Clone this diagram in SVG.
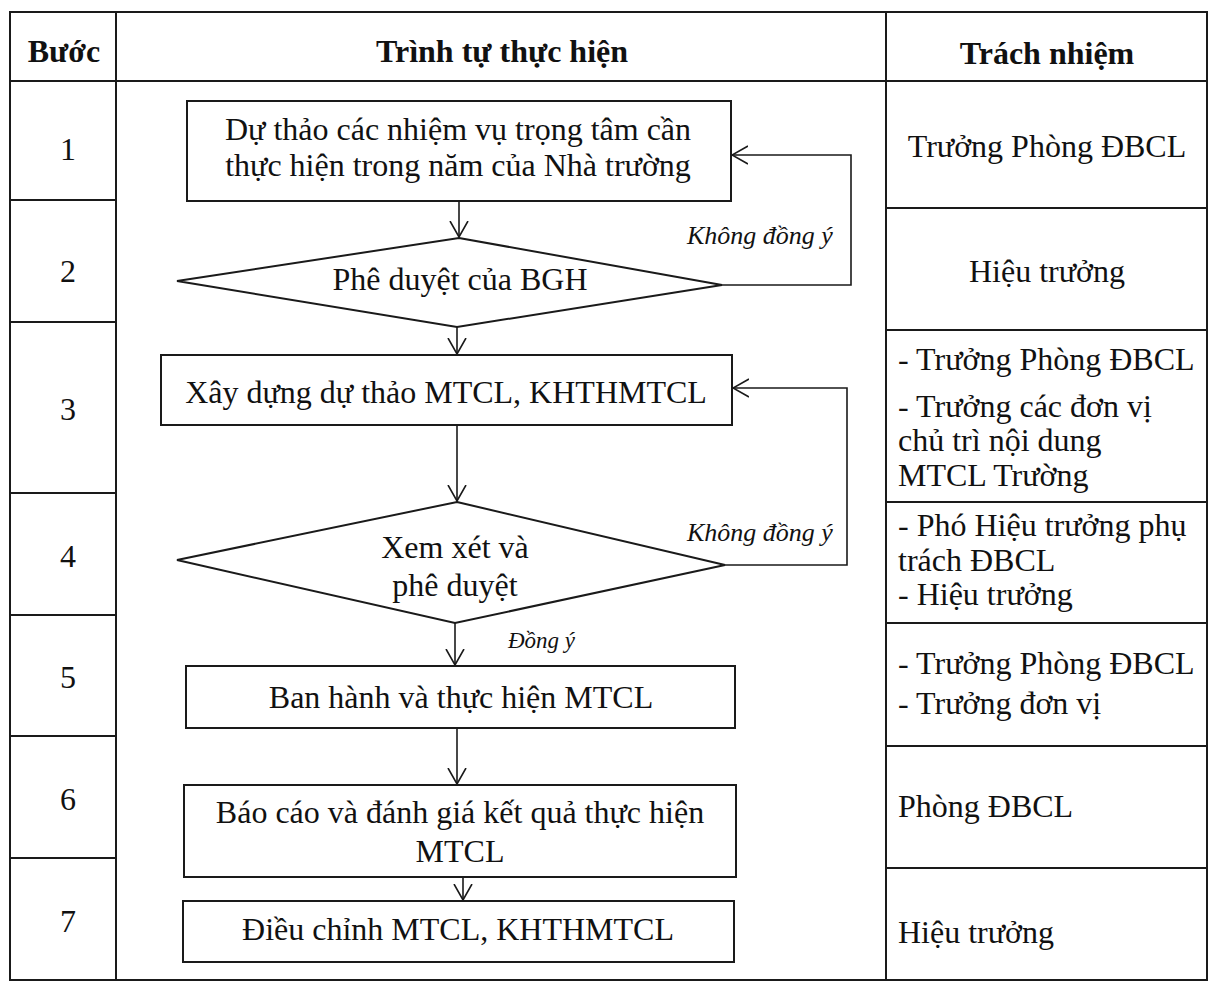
<svg xmlns="http://www.w3.org/2000/svg" width="1209" height="987" viewBox="0 0 1209 987">
<style>
.t{font-family:"Liberation Serif","Times New Roman",serif;font-size:32px;fill:#111}
.b{font-weight:bold}
.c{text-anchor:middle}
.i{font-style:italic;font-size:26px}
.i2{font-style:italic;font-size:23px}
.grid{stroke:#1a1a1a;stroke-width:2;fill:none}
.shape{stroke:#1a1a1a;stroke-width:2;fill:none}
.con{stroke:#1a1a1a;stroke-width:1.6;fill:none}
</style>
<defs>
<marker id="arr" viewBox="0 0 17 20" refX="17" refY="10" markerWidth="17" markerHeight="20" markerUnits="userSpaceOnUse" orient="auto">
<path d="M0,1 L16,10 L0,19" fill="none" stroke="#1a1a1a" stroke-width="1.6"/>
</marker>
</defs>
<rect width="1209" height="987" fill="#fff"/>
<g id="table" class="grid">
<rect x="10" y="12" width="1197" height="968"/>
<line x1="116" y1="12" x2="116" y2="980"/>
<line x1="886" y1="12" x2="886" y2="980"/>
<line x1="10" y1="81" x2="1207" y2="81"/>
<line x1="10" y1="200" x2="116" y2="200"/>
<line x1="10" y1="322" x2="116" y2="322"/>
<line x1="10" y1="493" x2="116" y2="493"/>
<line x1="10" y1="615" x2="116" y2="615"/>
<line x1="10" y1="736" x2="116" y2="736"/>
<line x1="10" y1="858" x2="116" y2="858"/>
<line x1="886" y1="208" x2="1207" y2="208"/>
<line x1="886" y1="330" x2="1207" y2="330"/>
<line x1="886" y1="502" x2="1207" y2="502"/>
<line x1="886" y1="623" x2="1207" y2="623"/>
<line x1="886" y1="746" x2="1207" y2="746"/>
<line x1="886" y1="868" x2="1207" y2="868"/>
</g>
<g id="headers">
<text class="t b c" x="64" y="62">Bước</text>
<text class="t b c" x="502" y="62">Trình tự thực hiện</text>
<text class="t b c" x="1047" y="64">Trách nhiệm</text>
</g>
<g id="steps">
<text class="t c" x="68" y="160">1</text>
<text class="t c" x="68" y="282">2</text>
<text class="t c" x="68" y="420">3</text>
<text class="t c" x="68" y="567">4</text>
<text class="t c" x="68" y="688">5</text>
<text class="t c" x="68" y="810">6</text>
<text class="t c" x="68" y="932">7</text>
</g>
<g id="responsibility">
<text class="t c" x="1047" y="157">Trưởng Phòng ĐBCL</text>
<text class="t c" x="1047" y="282">Hiệu trưởng</text>
<text class="t" x="898" y="370">- Trưởng Phòng ĐBCL</text>
<text class="t" x="898" y="417">- Trưởng các đơn vị</text>
<text class="t" x="898" y="451">chủ trì nội dung</text>
<text class="t" x="898" y="486">MTCL Trường</text>
<text class="t" x="898" y="536">- Phó Hiệu trưởng phụ</text>
<text class="t" x="898" y="571">trách ĐBCL</text>
<text class="t" x="898" y="605">- Hiệu trưởng</text>
<text class="t" x="898" y="674">- Trưởng Phòng ĐBCL</text>
<text class="t" x="898" y="714">- Trưởng đơn vị</text>
<text class="t" x="898" y="817">Phòng ĐBCL</text>
<text class="t" x="898" y="943">Hiệu trưởng</text>
</g>
<g id="n1">
<rect class="shape" x="187" y="101" width="544" height="100"/>
<text class="t c" x="458" y="140">Dự thảo các nhiệm vụ trọng tâm cần</text>
<text class="t c" x="458" y="176">thực hiện trong năm của Nhà trường</text>
</g>
<g id="n2">
<polygon class="shape" points="459,238 722,285 457,327 177,281"/>
<text class="t c" x="460" y="290">Phê duyệt của BGH</text>
</g>
<g id="n3">
<rect class="shape" x="161" y="355" width="571" height="70"/>
<text class="t c" x="446" y="403">Xây dựng dự thảo MTCL, KHTHMTCL</text>
</g>
<g id="n4">
<polygon class="shape" points="457,502 725,565 455,623 177,560"/>
<text class="t c" x="455" y="558">Xem xét và</text>
<text class="t c" x="455" y="596">phê duyệt</text>
</g>
<g id="n5">
<rect class="shape" x="186" y="666" width="549" height="62"/>
<text class="t c" x="461" y="708">Ban hành và thực hiện MTCL</text>
</g>
<g id="n6">
<rect class="shape" x="184" y="785" width="552" height="92"/>
<text class="t c" x="460" y="823">Báo cáo và đánh giá kết quả thực hiện</text>
<text class="t c" x="460" y="862">MTCL</text>
</g>
<g id="n7">
<rect class="shape" x="183" y="901" width="551" height="61"/>
<text class="t c" x="458" y="940">Điều chỉnh MTCL, KHTHMTCL</text>
</g>
<g id="connectors">
<line class="con" x1="459" y1="201" x2="459" y2="238" marker-end="url(#arr)"/>
<polyline class="con" points="722,285 851,285 851,155 731,155" marker-end="url(#arr)"/>
<line class="con" x1="457" y1="327" x2="457" y2="355" marker-end="url(#arr)"/>
<line class="con" x1="457" y1="425" x2="457" y2="502" marker-end="url(#arr)"/>
<polyline class="con" points="725,565 847,565 847,388 732,388" marker-end="url(#arr)"/>
<line class="con" x1="455" y1="623" x2="455" y2="666" marker-end="url(#arr)"/>
<line class="con" x1="457" y1="728" x2="457" y2="785" marker-end="url(#arr)"/>
<line class="con" x1="463" y1="877" x2="463" y2="901" marker-end="url(#arr)"/>
<text class="t i" x="687" y="244">Không đồng ý</text>
<text class="t i" x="687" y="541">Không đồng ý</text>
<text class="t i2" x="508" y="648">Đồng ý</text>
</g>
</svg>
